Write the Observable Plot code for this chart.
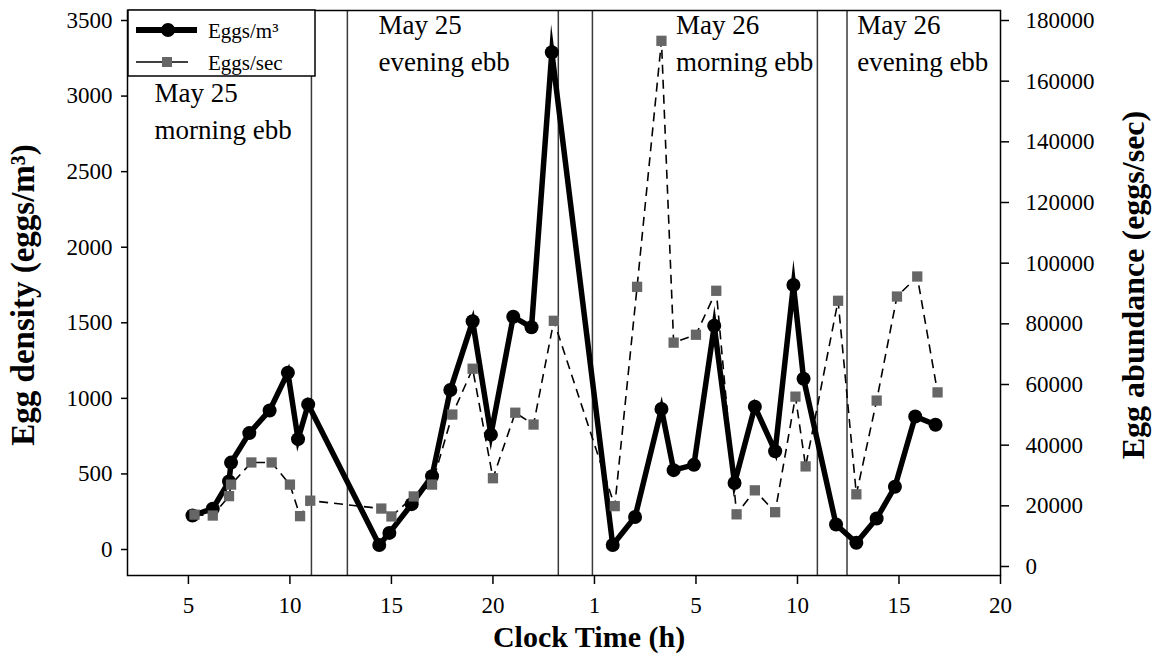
<!DOCTYPE html>
<html>
<head>
<meta charset="utf-8">
<script src="https://cdn.jsdelivr.net/npm/d3@7"></script>
<script src="https://cdn.jsdelivr.net/npm/@observablehq/plot@0.6"></script>
<style>
  html, body { margin: 0; padding: 0; background: #fff; }
  #wrap { position: relative; width: 1157px; height: 662px; font-family: "Liberation Serif", "Times New Roman", serif; }
  #legend { position: absolute; left: 0; top: 0; pointer-events: none; }
</style>
</head>
<body>
<div id="wrap"></div>
<script>
// ---- Data ----
const hoursDensity = [5.2, 6.2, 7.0, 7.1, 8.0, 9.0, 9.9, 10.4, 10.9, 14.4, 14.9, 16.0, 17.0, 17.9, 19.0, 19.9, 21.0, 21.9, 22.9,
  25.9, 27.0, 28.3, 28.9, 29.9, 30.9, 31.9, 32.9, 33.9, 34.8, 35.3, 36.9, 37.9, 38.9, 39.8, 40.8, 41.8];
const density = [225, 270, 450, 575, 770, 920, 1170, 730, 960, 30, 110, 300, 485, 1055, 1510, 760, 1540, 1470, 3290,
  30, 215, 930, 525, 560, 1480, 440, 945, 650, 1750, 1130, 165, 45, 205, 415, 880, 825];

const hoursFlux = [5.3, 6.2, 7.0, 7.1, 8.1, 9.1, 10.0, 10.5, 11.0, 14.5, 15.0, 16.1, 17.0, 18.0, 19.0, 20.0, 21.1, 22.0, 23.0,
  26.0, 27.1, 28.3, 28.9, 30.0, 31.0, 32.0, 32.9, 33.9, 34.9, 35.4, 37.0, 37.9, 38.9, 39.9, 40.9, 41.9];
const flux = [17100, 16800, 23200, 27000, 34300, 34300, 27000, 16600, 21700, 19100, 16500, 23100, 27000, 50100, 65200, 29100, 50700, 46800, 81000,
  19900, 92200, 173300, 73800, 76400, 90900, 17200, 25100, 17900, 56000, 33000, 87600, 23800, 54700, 89000, 95600, 57400];

const ebbBoundaries = [11.06, 12.83, 23.22, 24.9, 35.98, 37.44];

const xTicks = [5, 10, 15, 20, 25, 30, 35, 40, 45];
const xTickLabels = ["5", "10", "15", "20", "1", "5", "10", "15", "20"];
const densityTicks = [0, 500, 1000, 1500, 2000, 2500, 3000, 3500];
const fluxTicks = [0, 20000, 40000, 60000, 80000, 100000, 120000, 140000, 160000, 180000];

const noteLabels = ["May 25\nmorning ebb", "May 25\nevening ebb", "May 26\nmorning ebb", "May 26\nevening ebb"];
const noteHours = [3.33, 14.36, 29.02, 37.94];
const noteLevels = [2716, 3169, 3169, 3169];

const seriesNames = ["Eggs/m³", "Eggs/sec"];
const titleX = "Clock Time (h)";
const titleLeft = "Egg density (eggs/m³)";
const titleRight = "Egg abundance (eggs/sec)";

// ---- Scales ----
const xDomain = [2, 45];
const densityDomain = [-172, 3566.2];
const fluxDomain = [-2967, 183297];
const toLeft = r => densityDomain[0] + (r - fluxDomain[0]) * (densityDomain[1] - densityDomain[0]) / (fluxDomain[1] - fluxDomain[0]);
const fromLeft = y => fluxDomain[0] + (y - densityDomain[0]) * (fluxDomain[1] - fluxDomain[0]) / (densityDomain[1] - densityDomain[0]);

const densityData = hoursDensity.map((h, i) => ({hour: h, value: density[i]}));
const fluxData = hoursFlux.map((h, i) => ({hour: h, value: flux[i], left: toLeft(flux[i])}));
const notes = noteLabels.map((t, i) => ({text: t, hour: noteHours[i], level: noteLevels[i]}));

const font = "'Liberation Serif', 'Times New Roman', serif";

const chart = Plot.plot({
  width: 1157,
  height: 662,
  marginLeft: 127,
  marginRight: 157,
  marginTop: 10,
  marginBottom: 87,
  x: {domain: xDomain},
  y: {domain: densityDomain},
  style: {fontFamily: font, fontSize: "23px", color: "#000", background: "#fff", overflow: "visible"},
  marks: [
    Plot.ruleX(ebbBoundaries, {stroke: "#3a3a3a", strokeWidth: 1.5}),
    Plot.frame({stroke: "#000", strokeWidth: 1.5}),
    Plot.axisX({ticks: xTicks, tickFormat: d => xTickLabels[xTicks.indexOf(d)], tickSize: 9, tickPadding: 12, strokeWidth: 1.5, label: null, fontSize: 23}),
    Plot.axisY({ticks: densityTicks, tickFormat: d => String(d), tickSize: 6, tickPadding: 9, strokeWidth: 1.5, label: null, fontSize: 23}),
    Plot.axisY(fluxTicks.map(toLeft), {anchor: "right", tickFormat: d => String(Math.round(fromLeft(d) / 100) * 100), tickSize: 8, tickPadding: 17, strokeWidth: 1.5, label: null, fontSize: 23}),
    Plot.line(densityData, {x: "hour", y: "value", stroke: "#000", strokeWidth: 5.5, strokeLinejoin: "miter", strokeMiterlimit: 10.5, strokeLinecap: "butt", curve: "linear"}),
    Plot.dot(densityData, {x: "hour", y: "value", r: 7, fill: "#000", stroke: "none"}),
    Plot.line(fluxData, {x: "hour", y: "left", stroke: "#000", strokeWidth: 1.6, strokeDasharray: "9,6", strokeLinecap: "butt"}),
    Plot.dot(fluxData, {x: "hour", y: "left", symbol: "square", r: 5.8, fill: "#666", stroke: "none"}),
    Plot.text(notes, {x: "hour", y: "level", text: "text", textAnchor: "start", lineAnchor: "bottom", lineHeight: 1.37, fontSize: 27, fill: "#000"}),
    Plot.text([titleX], {frameAnchor: "bottom", textAnchor: "middle", dx: 25, dy: 71, fontSize: 30, fontWeight: "bold", fill: "#000"}),
    Plot.text([titleLeft], {frameAnchor: "left", textAnchor: "middle", dx: -104, dy: 2, rotate: -90, fontSize: 33, fontWeight: "bold", fill: "#000"}),
    Plot.text([titleRight], {frameAnchor: "right", textAnchor: "middle", dx: 133, dy: -8, rotate: -90, fontSize: 32, fontWeight: "bold", fill: "#000"})
  ]
});

const wrap = document.getElementById("wrap");
wrap.appendChild(chart);

// ---- Legend (overlay) ----
const leg = d3.select(wrap).append("svg").attr("id", "legend").attr("width", 1157).attr("height", 662);
const g = leg.append("g").attr("transform", "translate(128,10)");
g.append("rect").attr("x", 0).attr("y", 0).attr("width", 187).attr("height", 66).attr("fill", "#fff").attr("stroke", "#000").attr("stroke-width", 1.5);
// entry 1
g.append("line").attr("x1", 8).attr("x2", 69).attr("y1", 20).attr("y2", 20).attr("stroke", "#000").attr("stroke-width", 6);
g.append("circle").attr("cx", 40).attr("cy", 20).attr("r", 7).attr("fill", "#000");
g.append("text").attr("x", 80).attr("y", 28).attr("font-family", font).attr("font-size", 21).text(seriesNames[0]);
// entry 2
g.append("line").attr("x1", 8).attr("x2", 60).attr("y1", 52).attr("y2", 52).attr("stroke", "#000").attr("stroke-width", 1.6);
g.append("rect").attr("x", 34).attr("y", 47).attr("width", 10).attr("height", 10).attr("fill", "#666");
g.append("text").attr("x", 80).attr("y", 60).attr("font-family", font).attr("font-size", 21).text(seriesNames[1]);
</script>
</body>
</html>
